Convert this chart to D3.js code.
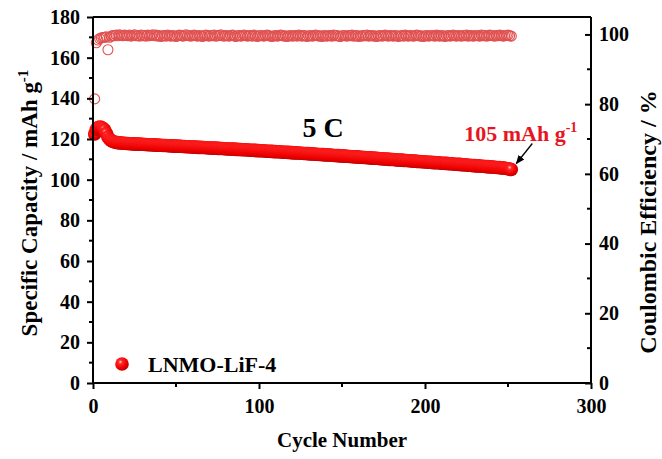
<!DOCTYPE html>
<html>
<head>
<meta charset="utf-8">
<script src="https://cdn.jsdelivr.net/npm/d3@7"></script>
<style>
  html, body { margin: 0; padding: 0; background: #fff; }
  svg { display: block; }
  text { font-family: "Liberation Serif", "Times New Roman", serif; font-weight: bold; }
</style>
</head>
<body>
<svg id="chart" width="662" height="459"></svg>
<script>
// Discharge capacity (mAh g-1) per cycle, cycles 1..252
const capacity = [
  122.5,124.8,125.6,125.9,125.7,125.2,124.4,122.8,121.0,119.9,
  119.2,118.8,118.5,118.3,118.2,118.1,118.0,117.9,117.9,117.8,
  117.8,117.7,117.7,117.6,117.6,117.5,117.5,117.5,117.4,117.4,
  117.3,117.3,117.2,117.2,117.2,117.1,117.1,117.0,117.0,116.9,
  116.9,116.8,116.8,116.8,116.7,116.7,116.6,116.6,116.5,116.5,
  116.5,116.4,116.4,116.3,116.3,116.2,116.2,116.2,116.1,116.1,
  116.0,116.0,115.9,115.9,115.9,115.8,115.8,115.7,115.7,115.6,
  115.6,115.5,115.5,115.5,115.4,115.4,115.3,115.3,115.2,115.2,
  115.1,115.1,115.1,115.0,115.0,114.9,114.9,114.8,114.8,114.7,
  114.7,114.7,114.6,114.6,114.5,114.5,114.4,114.4,114.3,114.3,
  114.2,114.2,114.1,114.1,114.0,114.0,113.9,113.9,113.8,113.8,
  113.7,113.7,113.6,113.6,113.5,113.5,113.4,113.4,113.3,113.3,
  113.2,113.2,113.1,113.1,113.0,113.0,112.9,112.9,112.8,112.8,
  112.7,112.7,112.6,112.5,112.5,112.4,112.4,112.3,112.3,112.2,
  112.2,112.1,112.1,112.0,111.9,111.9,111.8,111.8,111.7,111.7,
  111.6,111.6,111.5,111.4,111.4,111.3,111.3,111.2,111.2,111.1,
  111.0,111.0,110.9,110.9,110.8,110.8,110.7,110.6,110.6,110.5,
  110.5,110.4,110.3,110.3,110.2,110.2,110.1,110.0,110.0,109.9,
  109.9,109.8,109.7,109.7,109.6,109.6,109.5,109.4,109.4,109.3,
  109.3,109.2,109.1,109.1,109.0,108.9,108.9,108.8,108.8,108.7,
  108.7,108.6,108.6,108.5,108.4,108.4,108.3,108.3,108.2,108.1,
  108.1,108.0,108.0,107.9,107.8,107.8,107.7,107.6,107.6,107.5,
  107.5,107.4,107.3,107.3,107.2,107.1,107.1,107.0,106.9,106.9,
  106.8,106.8,106.7,106.6,106.6,106.5,106.4,106.4,106.3,106.2,
  106.2,106.1,106.0,106.0,105.9,105.8,105.8,105.6,105.5,105.4,
  105.2,105.0
];

// Coulombic efficiency (%) per cycle, cycles 1..252
const efficiency = [
  81.5,97.6,98.4,98.8,99.0,99.1,99.2,99.3,95.6,99.2,
  99.5,99.7,99.6,99.8,99.6,99.9,99.7,99.6,99.8,99.7,
  99.6,99.8,99.5,99.7,99.9,99.6,99.7,99.5,99.8,99.6,
  99.7,99.5,99.8,99.6,99.7,99.9,99.6,99.8,99.5,99.7,
  99.4,99.6,99.7,99.5,99.8,99.6,99.5,99.7,99.6,99.4,
  99.6,99.8,99.7,99.5,99.6,99.9,99.7,99.6,99.5,99.7,
  99.8,99.6,99.5,99.7,99.6,99.4,99.7,99.8,99.6,99.5,
  99.7,99.6,99.8,99.5,99.6,99.7,99.9,99.6,99.5,99.7,
  99.6,99.5,99.7,99.8,99.6,99.4,99.6,99.7,99.5,99.6,
  99.8,99.7,99.5,99.6,99.7,99.5,99.8,99.6,99.4,99.6,
  99.7,99.6,99.5,99.7,99.8,99.6,99.5,99.4,99.6,99.7,
  99.5,99.6,99.8,99.7,99.5,99.6,99.4,99.6,99.7,99.5,
  99.6,99.7,99.5,99.8,99.6,99.5,99.7,99.6,99.4,99.6,
  99.7,99.5,99.6,99.8,99.7,99.5,99.6,99.4,99.7,99.6,
  99.5,99.7,99.6,99.5,99.8,99.6,99.7,99.5,99.4,99.6,
  99.7,99.6,99.5,99.7,99.6,99.8,99.5,99.6,99.7,99.4,
  99.6,99.5,99.7,99.6,99.8,99.5,99.6,99.7,99.5,99.6,
  99.4,99.6,99.7,99.5,99.6,99.8,99.6,99.5,99.7,99.6,
  99.5,99.7,99.6,99.4,99.6,99.7,99.5,99.8,99.6,99.5,
  99.7,99.6,99.5,99.6,99.8,99.7,99.5,99.6,99.4,99.6,
  99.7,99.5,99.6,99.7,99.6,99.5,99.8,99.6,99.5,99.7,
  99.6,99.4,99.6,99.7,99.5,99.6,99.8,99.6,99.5,99.7,
  99.6,99.5,99.7,99.6,99.8,99.5,99.6,99.7,99.5,99.6,
  99.7,99.6,99.5,99.8,99.6,99.7,99.5,99.6,99.8,99.7,
  99.6,99.5,99.7,99.6,99.8,99.7,99.5,99.6,99.7,99.8,
  99.6,99.5
];

const cycles = capacity.map((_, i) => i + 1);

const xTicks = [0, 100, 200, 300];
const yLeftTicks = [0, 20, 40, 60, 80, 100, 120, 140, 160, 180];
const yRightTicks = [0, 20, 40, 60, 80, 100];

const rateLabel = "5 C";
const seriesName = "LNMO-LiF-4";
const finalCapacity = 105;

const svg = d3.select("#chart");
const m = { left: 93, right: 71, top: 17, bottom: 76 };
const W = 662, H = 459;
const x0 = m.left, x1 = W - m.right, y0 = H - m.bottom, y1 = m.top;

const x = d3.scaleLinear().domain([0, 300]).range([x0, x1]);
const yL = d3.scaleLinear().domain([0, 180]).range([y0, y1]);
const yR = d3.scaleLinear().domain([0, 105]).range([y0, y1]);

// sphere shading for the capacity markers
const defs = svg.append("defs");
const grad = defs.append("radialGradient")
  .attr("id", "sphere").attr("cx", "38%").attr("cy", "35%").attr("r", "65%");
grad.append("stop").attr("offset", "0%").attr("stop-color", "#ffd8d8");
grad.append("stop").attr("offset", "22%").attr("stop-color", "#ff2a2a");
grad.append("stop").attr("offset", "70%").attr("stop-color", "#f00000");
grad.append("stop").attr("offset", "100%").attr("stop-color", "#c00000");

defs.append("marker").attr("id", "arrowhead")
  .attr("viewBox", "0 0 10 10").attr("refX", 9).attr("refY", 5)
  .attr("markerWidth", 7).attr("markerHeight", 7).attr("orient", "auto")
  .append("path").attr("d", "M0,1 L10,5 L0,9 z").attr("fill", "#000");

const tickFont = "20px";

// Coulombic efficiency: open circles
svg.append("g").selectAll("circle")
  .data(cycles)
  .join("circle")
  .attr("cx", d => x(d))
  .attr("cy", d => yR(efficiency[d - 1]))
  .attr("r", 5)
  .attr("fill", "none")
  .attr("stroke", "#e05050")
  .attr("stroke-width", 1.1);

// Specific capacity: filled spheres
svg.append("g").selectAll("circle")
  .data(cycles)
  .join("circle")
  .attr("cx", d => x(d))
  .attr("cy", d => yL(capacity[d - 1]))
  .attr("r", 6.8)
  .attr("fill", "url(#sphere)");

// Frame top
svg.append("path")
  .attr("d", `M${x0},${y1}H${x1}`)
  .attr("stroke", "#000").attr("stroke-width", 2).attr("fill", "none");

// Bottom axis
const gx = svg.append("g").attr("transform", `translate(0,${y0})`)
  .call(d3.axisBottom(x).tickValues(xTicks).tickSize(6).tickPadding(10).tickFormat(d3.format("d")));
gx.append("g").selectAll("line").data([50, 150, 250]).join("line")
  .attr("x1", d => x(d)).attr("x2", d => x(d)).attr("y1", 0).attr("y2", 4)
  .attr("stroke", "#000").attr("stroke-width", 2);

// Left axis
const gl = svg.append("g").attr("transform", `translate(${x0},0)`)
  .call(d3.axisLeft(yL).tickValues(yLeftTicks).tickSize(6).tickPadding(7).tickFormat(d3.format("d")));
gl.append("g").selectAll("line").data(d3.range(10, 180, 20)).join("line")
  .attr("y1", d => yL(d)).attr("y2", d => yL(d)).attr("x1", 0).attr("x2", -4)
  .attr("stroke", "#000").attr("stroke-width", 2);

// Right axis (ticks point inward)
const gr = svg.append("g").attr("transform", `translate(${x1},0)`)
  .call(d3.axisRight(yR).tickValues(yRightTicks).tickSize(-6).tickPadding(8).tickFormat(d3.format("d")));
gr.append("g").selectAll("line").data(d3.range(10, 105, 20)).join("line")
  .attr("y1", d => yR(d)).attr("y2", d => yR(d)).attr("x1", 0).attr("x2", -4)
  .attr("stroke", "#000").attr("stroke-width", 2);

[gx, gl, gr].forEach(g => {
  g.selectAll(".domain").attr("stroke", "#000").attr("stroke-width", 2);
  g.selectAll(".tick line").attr("stroke", "#000").attr("stroke-width", 2);
  g.selectAll(".tick text").attr("font-size", tickFont).attr("fill", "#000")
    .attr("font-family", "Liberation Serif").attr("font-weight", "bold");
});
// straight spines without end caps
gx.select(".domain").attr("d", `M${x0},0H${x1}`);
gl.select(".domain").attr("d", `M0,${y0}V${y1}`);
gr.select(".domain").attr("d", `M0,${y0}V${y1}`);

// Axis titles
svg.append("text")
  .attr("x", (x0 + x1) / 2).attr("y", 447)
  .attr("text-anchor", "middle").attr("font-size", "21px").attr("fill", "#000")
  .text("Cycle Number");

const lt = svg.append("text")
  .attr("transform", `translate(37,203) rotate(-90)`)
  .attr("text-anchor", "middle").attr("font-size", "23px").attr("fill", "#000");
lt.append("tspan").text("Specific Capacity / mAh g");
lt.append("tspan").attr("font-size", "15px").attr("dy", "-9").text("-1");

svg.append("text")
  .attr("transform", `translate(656,222) rotate(-90)`)
  .attr("text-anchor", "middle").attr("font-size", "24px").attr("fill", "#000")
  .text("Coulombic Efficiency / %");

// Rate annotation
svg.append("text")
  .attr("x", 323).attr("y", 137)
  .attr("text-anchor", "middle").attr("font-size", "28px").attr("fill", "#000")
  .text(rateLabel);

// Final capacity annotation and arrow
const lastC = cycles[cycles.length - 1];
const px = x(lastC), py = yL(capacity[lastC - 1]);
const fl = svg.append("text")
  .attr("x", px + 66).attr("y", py - 29)
  .attr("text-anchor", "end").attr("font-size", "22px").attr("fill", "#e8141e");
fl.append("tspan").text(`${finalCapacity} mAh g`);
fl.append("tspan").attr("font-size", "14px").attr("dy", "-9").text("-1");

svg.append("line")
  .attr("x1", px + 21).attr("y1", py - 26)
  .attr("x2", px + 5).attr("y2", py - 6)
  .attr("stroke", "#000").attr("stroke-width", 1.3)
  .attr("marker-end", "url(#arrowhead)");

// Legend
svg.append("circle").attr("cx", 122).attr("cy", 364).attr("r", 6.8).attr("fill", "url(#sphere)");
svg.append("text").attr("x", 148).attr("y", 372)
  .attr("font-size", "22px").attr("fill", "#000").text(seriesName);
</script>
</body>
</html>
